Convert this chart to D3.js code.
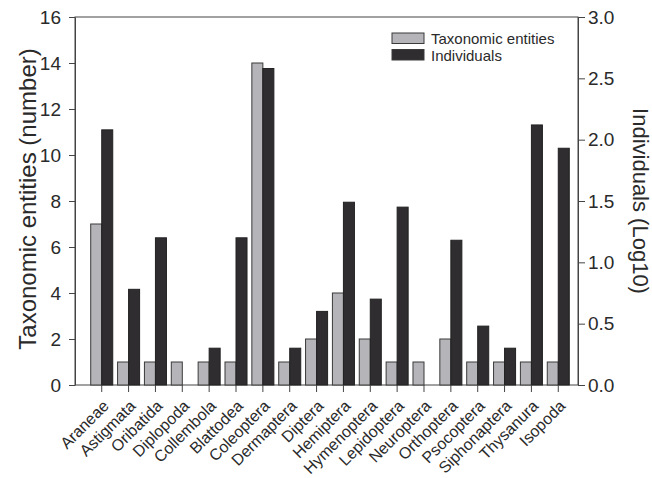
<!DOCTYPE html>
<html>
<head>
<meta charset="utf-8">
<script src="https://cdn.jsdelivr.net/npm/d3@7"></script>
<style>
  body { margin: 0; background: #fff; }
  svg { font-family: Arial, "Liberation Sans", sans-serif; }
  .axis path, .axis line { stroke: #444; }
  .axis text { fill: #2a2a2a; }
</style>
</head>
<body>
<div class="js-chart"></div>
<script>
// data
var categories = ['Araneae', 'Astigmata', 'Oribatida', 'Diplopoda', 'Collembola', 'Blattodea',
  'Coleoptera', 'Dermaptera', 'Diptera', 'Hemiptera', 'Hymenoptera', 'Lepidoptera',
  'Neuroptera', 'Orthoptera', 'Psocoptera', 'Siphonaptera', 'Thysanura', 'Isopoda'];
var taxa = [7, 1, 1, 1, 1, 1, 14, 1, 2, 4, 2, 1, 1, 2, 1, 1, 1, 1];
var individualsLog = [2.08, 0.78, 1.20, 0, 0.30, 1.20, 2.58, 0.30, 0.60, 1.49, 0.70, 1.45,
  0, 1.18, 0.48, 0.30, 2.12, 1.93];
var leftTicks = [0, 2, 4, 6, 8, 10, 12, 14, 16];
var rightTicks = [0, 0.5, 1, 1.5, 2, 2.5, 3];
var seriesNames = ['Taxonomic entities', 'Individuals'];

var W = 652, H = 478;
var margin = {left: 75, right: 578, top: 17, bottom: 385};
var GRAY = '#b5b5b9', DARK = '#2f2d2f';

var svg = d3.select('.js-chart').append('svg')
  .attr('width', W)
  .attr('height', H);

// scales
var x0 = d3.scaleBand()
  .domain(categories)
  .range([88.3, 571.7])
  .paddingInner(0.18)
  .paddingOuter(0.09);

var x1 = d3.scaleBand()
  .domain(seriesNames)
  .range([0, x0.bandwidth()]);

var yLeft = d3.scaleLinear().domain([0, 16]).range([margin.bottom, margin.top]);
var yRight = d3.scaleLinear().domain([0, 3]).range([margin.bottom, margin.top]);

// frame
svg.append('rect')
  .attr('x', margin.left).attr('y', margin.top)
  .attr('width', margin.right - margin.left).attr('height', margin.bottom - margin.top)
  .attr('fill', 'none').attr('stroke', '#444');

// bars
var groups = svg.selectAll('g.item')
  .data(categories)
  .enter().append('g')
  .attr('class', 'item')
  .attr('transform', function(d) { return 'translate(' + x0(d) + ',0)'; });

groups.append('rect')
  .attr('x', x1(seriesNames[0]))
  .attr('y', function(d, i) { return yLeft(taxa[i]); })
  .attr('width', x1.bandwidth())
  .attr('height', function(d, i) { return margin.bottom - yLeft(taxa[i]); })
  .attr('fill', GRAY)
  .attr('stroke', '#3a3a3a')
  .attr('stroke-width', 1);

groups.filter(function(d, i) { return individualsLog[i] > 0; })
  .append('rect')
  .attr('x', x1(seriesNames[1]))
  .attr('y', function(d) { return yRight(individualsLog[categories.indexOf(d)]); })
  .attr('width', x1.bandwidth())
  .attr('height', function(d) { return margin.bottom - yRight(individualsLog[categories.indexOf(d)]); })
  .attr('fill', DARK)
  .attr('stroke', '#222')
  .attr('stroke-width', 1);

// axes
var gl = svg.append('g')
  .attr('class', 'axis')
  .attr('transform', 'translate(' + margin.left + ',0)')
  .call(d3.axisLeft(yLeft).tickValues(leftTicks).tickSize(6).tickSizeOuter(0).tickPadding(8));
gl.selectAll('text').style('font-size', '19px');

var gr = svg.append('g')
  .attr('class', 'axis')
  .attr('transform', 'translate(' + margin.right + ',0)')
  .call(d3.axisRight(yRight).tickValues(rightTicks).tickFormat(d3.format('.1f'))
    .tickSize(7).tickSizeOuter(0).tickPadding(3));
gr.selectAll('text').style('font-size', '19px');

var gx = svg.append('g')
  .attr('class', 'axis')
  .attr('transform', 'translate(0,' + margin.bottom + ')')
  .call(d3.axisBottom(x0).tickSize(7).tickSizeOuter(0));
gx.select('.domain').remove();
gx.selectAll('text')
  .style('font-size', '16px')
  .attr('text-anchor', 'end')
  .attr('x', 0).attr('y', 0).attr('dy', 0)
  .attr('transform', 'translate(8,22) rotate(-45)');

// axis titles
svg.append('text')
  .attr('transform', 'translate(27,199) rotate(-90)')
  .attr('text-anchor', 'middle')
  .attr('dominant-baseline', 'central')
  .style('font-size', '24px')
  .attr('fill', '#2a2a2a')
  .text('Taxonomic entities (number)');

svg.append('text')
  .attr('transform', 'translate(640,201) rotate(90)')
  .attr('text-anchor', 'middle')
  .attr('dominant-baseline', 'central')
  .style('font-size', '22px')
  .attr('fill', '#2a2a2a')
  .text('Individuals (Log10)');

// legend
var legend = svg.append('g').attr('transform', 'translate(392,33)');
seriesNames.forEach(function(name, i) {
  legend.append('rect')
    .attr('x', 0).attr('y', i * 16.5)
    .attr('width', 32).attr('height', 10.5)
    .attr('fill', i === 0 ? GRAY : DARK)
    .attr('stroke', '#3a3a3a');
  legend.append('text')
    .attr('x', 39).attr('y', i * 16.5 + 5.5)
    .attr('dominant-baseline', 'central')
    .style('font-size', '15px')
    .attr('fill', '#2a2a2a')
    .text(name);
});
</script>
</body>
</html>
